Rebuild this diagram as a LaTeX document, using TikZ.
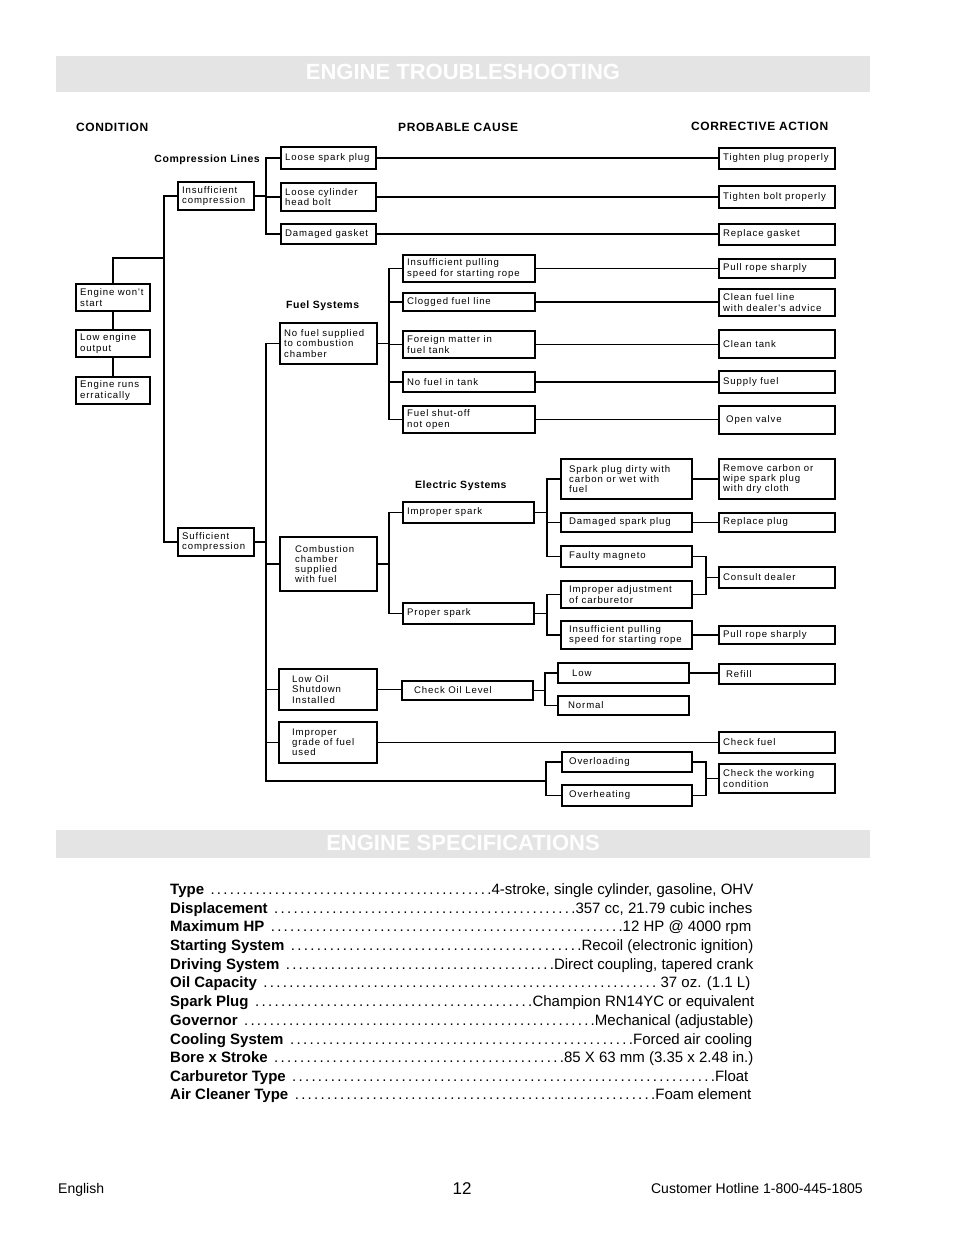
\documentclass[tikz,border=0pt]{standalone}
\usepackage{fontspec}
\setmainfont{Liberation Sans}
\newfontfamily\bxf[LetterSpace=9]{Liberation Sans}
\newfontfamily\hdf[LetterSpace=5]{Liberation Sans}
\definecolor{bannergray}{RGB}{228,228,228}
\newcommand\ldr{\xleaders\hbox to 6.4pt{\hss.}\hfill}
\newcommand\bx[7][4]{%
  \pgfmathsetmacro\bw{#5-#3}\pgfmathsetmacro\bh{#6-#4}%
  \node[box,minimum width=\bw pt,minimum height=\bh pt,anchor=north west] (#2) at (#3,#4) {};
  \node[btxt,anchor=west] (#2-t) at ([xshift=#1pt]#2.west) {#7};}
\newcommand\spec[5]{\node[spec,anchor=base west] (#1) at (170,#2) {\hbox to #3pt{\textbf{#4}\ \ldr #5}};}
\begin{document}
\begin{tikzpicture}[x=1pt,y=-1pt,
  box/.style={draw,line width=1.3pt,inner sep=0,outer sep=0},
  btxt/.style={inner sep=0,align=left,font=\bxf\fontsize{9.6}{10.2}\selectfont},
  link/.style={line width=1.2pt},
  hdr/.style={inner sep=0,font=\hdf\bfseries\fontsize{12}{14}\selectfont},
  sub/.style={inner sep=0,font=\hdf\bfseries\fontsize{10.5}{12}\selectfont},
  spec/.style={inner sep=0,font=\fontsize{15}{18}\selectfont},
  banner/.style={fill=bannergray,draw=none,inner sep=0,outer sep=0},
  btitle/.style={text=white,font=\bfseries\fontsize{22}{26}\selectfont,inner sep=0},
  foot/.style={inner sep=0,font=\fontsize{14}{16}\selectfont}]
\useasboundingbox (0,0) rectangle (954,1235);
\fill[white] (0,0) rectangle (954,1235);

% banners
\node[banner,minimum width=814pt,minimum height=36pt,anchor=north west] (ban1) at (56,56) {};
\node[btitle] (ban1t) at (463,72) {ENGINE TROUBLESHOOTING};
\node[banner,minimum width=814pt,minimum height=28pt,anchor=north west] (ban2) at (56,830) {};
\node[btitle] (ban2t) at (463,843) {ENGINE SPECIFICATIONS};

% headers
\node[hdr,anchor=west] (hc) at (76,127) {CONDITION};
\node[hdr,anchor=west] (hp) at (398,127) {PROBABLE CAUSE};
\node[hdr,anchor=west] (ha) at (691,126) {CORRECTIVE ACTION};
\node[sub,anchor=east] (lcomp) at (260,160) {Compression Lines};
\node[sub,anchor=west] (lfuel) at (286,306) {Fuel Systems};
\node[sub,anchor=west] (lelec) at (415,486) {Electric Systems};

% condition
\bx{c1}{76}{284}{150}{311}{Engine won't\\start}
\bx{c2}{76}{330}{150}{357}{Low engine\\output}
\bx{c3}{76}{377}{150}{404}{Engine runs\\erratically}
\bx{ins}{178}{182}{254}{210}{Insufficient\\compression}
\bx{suf}{178}{528}{254}{556}{Sufficient\\compression}

% compression causes
\bx{p1}{281}{147}{376}{169}{Loose spark plug}
\bx{p2}{281}{183}{376}{211}{Loose cylinder\\head bolt}
\bx{p3}{281}{224}{376}{244}{Damaged gasket}

% fuel
\bx{nofuel}{280}{323}{377}{364}{No fuel supplied\\to combustion\\chamber}
\bx{f1}{403}{255}{535}{282}{Insufficient pulling\\speed for starting rope}
\bx{f2}{403}{293}{535}{311}{Clogged fuel line}
\bx{f3}{403}{331}{535}{358}{Foreign matter in\\fuel tank}
\bx{f4}{403}{372}{535}{392}{No fuel in tank}
\bx{f5}{403}{406}{535}{433}{Fuel shut-off\\not open}

% electric
\bx[15]{comb}{280}{537}{377}{591}{Combustion\\chamber\\supplied\\with fuel}
\bx{imp}{403}{502}{534}{523}{Improper spark}
\bx{prop}{403}{603}{534}{624}{Proper spark}
\bx[8]{e1}{561}{459}{692}{499}{Spark plug dirty with\\carbon or wet with\\fuel}
\bx[8]{e2}{561}{513}{692}{532}{Damaged spark plug}
\bx[8]{e3}{561}{546}{692}{567}{Faulty magneto}
\bx[8]{e4}{561}{581}{692}{608}{Improper adjustment\\of carburetor}
\bx[8]{e5}{561}{621}{692}{649}{Insufficient pulling\\speed for starting rope}

% oil / grade / load
\bx[13]{lowoil}{279}{669}{377}{710}{Low Oil\\Shutdown\\Installed}
\bx[12]{chk}{402}{681}{533}{700}{Check Oil Level}
\bx[14]{low}{558}{663}{689}{683}{Low}
\bx[10]{norm}{558}{696}{689}{715}{Normal}
\bx[13]{grade}{279}{722}{377}{763}{Improper\\grade of fuel\\used}
\bx[7]{ovl}{562}{752}{692}{772}{Overloading}
\bx[7]{ovh}{562}{785}{692}{806}{Overheating}

% actions
\bx{a1}{719}{148}{835}{169}{Tighten plug properly}
\bx{a2}{719}{186}{835}{208}{Tighten bolt properly}
\bx{a3}{719}{224}{835}{245}{Replace gasket}
\bx{a4}{719}{259}{835}{278}{Pull rope sharply}
\bx{a5}{719}{289}{835}{316}{Clean fuel line\\with dealer's advice}
\bx{a6}{719}{330}{835}{358}{Clean tank}
\bx{a7}{719}{371}{835}{393}{Supply fuel}
\bx[7]{a8}{719}{406}{835}{434}{Open valve}
\bx{a9}{719}{459}{835}{499}{Remove carbon or\\wipe spark plug\\with dry cloth}
\bx{a10}{719}{513}{835}{532}{Replace plug}
\bx{a11}{719}{567}{835}{588}{Consult dealer}
\bx{a12}{719}{626}{835}{644}{Pull rope sharply}
\bx[7]{a13}{719}{664}{835}{684}{Refill}
\bx{a14}{719}{732}{835}{753}{Check fuel}
\bx{a15}{719}{764}{835}{793}{Check the working\\condition}

% junction columns
\coordinate (j1) at (164,258);
\coordinate (vA) at (266,0);
\coordinate (vB) at (389,0);
\coordinate (vD) at (547,0);
\coordinate (vE) at (545,0);
\coordinate (vF) at (706,0);
\coordinate (vG) at (546,0);
\coordinate (bot) at (266,781);

% condition tree
\draw[link] (c1.north) |- (j1);
\draw[link] (c1.south) -- (c2.north);
\draw[link] (c2.south) -- (c3.north);
\draw[link] (ins.west) -| (j1) |- (suf.west);

% compression
\draw[link] (ins.east) -- (ins.east -| vA);
\draw[link] (p1.west) -- (p1.west -| vA) -- (p3.west -| vA) -- (p3.west);
\draw[link] (p2.west) -- (p2.west -| vA);
\draw[link] (p1.east) -- (p1.east -| a1.west);
\draw[link] (p2.east) -- (p2.east -| a2.west);
\draw[link] (p3.east) -- (p3.east -| a3.west);

% main vertical for sufficient compression
\draw[link] (nofuel.west) -- (nofuel.west -| vA) -- (bot) -- (bot -| vG);
\draw[link] (suf.east) -- (suf.east -| vA);
\draw[link] (comb.west) -- (comb.west -| vA);
\draw[link] (lowoil.west) -- (lowoil.west -| vA);
\draw[link] (grade.west) -- (grade.west -| vA);

% fuel
\draw[link] (nofuel.east) -- (nofuel.east -| vB);
\draw[link] (f1.west) -- (f1.west -| vB) -- (f5.west -| vB) -- (f5.west);
\draw[link] (f2.west) -- (f2.west -| vB);
\draw[link] (f3.west) -- (f3.west -| vB);
\draw[link] (f4.west) -- (f4.west -| vB);
\draw[link] (f1.east) -- (f1.east -| a4.west);
\draw[link] (f2.east) -- (f2.east -| a5.west);
\draw[link] (f3.east) -- (f3.east -| a6.west);
\draw[link] (f4.east) -- (f4.east -| a7.west);
\draw[link] (f5.east) -- (f5.east -| a8.west);

% electric
\draw[link] (comb.east) -- (comb.east -| vB);
\draw[link] (imp.west) -- (imp.west -| vB) -- (prop.west -| vB) -- (prop.west);
\draw[link] (imp.east) -- (imp.east -| vD);
\draw[link] (e1.west) -- (e1.west -| vD) -- (e3.west -| vD) -- (e3.west);
\draw[link] (e2.west) -- (e2.west -| vD);
\draw[link] (prop.east) -- (prop.east -| vD);
\draw[link] (e4.west) -- (e4.west -| vD) -- (e5.west -| vD) -- (e5.west);
\draw[link] (e1.east) -- (e1.east -| a9.west);
\draw[link] (e2.east) -- (e2.east -| a10.west);
\draw[link] (e3.east) -- (e3.east -| vF) -- (e4.east -| vF) -- (e4.east);
\draw[link] (a11.west) -- (a11.west -| vF);
\draw[link] (e5.east) -- (e5.east -| a12.west);

% oil
\draw[link] (lowoil.east) -- (lowoil.east -| chk.west);
\draw[link] (chk.east) -- (chk.east -| vE);
\draw[link] (low.west) -- (low.west -| vE) -- (norm.west -| vE) -- (norm.west);
\draw[link] (low.east) -- (low.east -| a13.west);

% grade / load
\draw[link] (grade.east) -- (grade.east -| a14.west);
\draw[link] (ovl.west) -- (ovl.west -| vG) -- (ovh.west -| vG) -- (ovh.west);
\draw[link] (ovl.east) -- (ovl.east -| vF) -- (ovh.east -| vF) -- (ovh.east);
\draw[link] (a15.west) -- (a15.west -| vF);

% specifications
\spec{s1}{894}{583}{Type}{4-stroke, single cylinder, gasoline, OHV}
\spec{s2}{913}{582}{Displacement}{357 cc, 21.79 cubic inches}
\spec{s3}{931}{581}{Maximum HP}{12 HP @ 4000 rpm}
\spec{s4}{950}{583}{Starting System}{Recoil (electronic ignition)}
\spec{s5}{969}{583}{Driving System}{Direct coupling, tapered crank}
\spec{s6}{987}{580}{Oil Capacity}{ 37 oz. (1.1 L)}
\spec{s7}{1006}{584}{Spark Plug}{Champion RN14YC or equivalent}
\spec{s8}{1025}{583}{Governor}{Mechanical (adjustable)}
\spec{s9}{1044}{582}{Cooling System}{Forced air cooling}
\spec{s10}{1062}{583}{Bore x Stroke}{85 X 63 mm (3.35 x 2.48 in.)}
\spec{s11}{1081}{578}{Carburetor Type}{Float}
\spec{s12}{1099}{581}{Air Cleaner Type}{Foam element}

% footer
\node[foot,anchor=base west] (fe) at (58,1193) {English};
\node[inner sep=0,font=\fontsize{17}{20}\selectfont,anchor=base] (fn) at (462,1194) {12};
\node[foot,anchor=base east] (fh) at (863,1193) {Customer Hotline 1-800-445-1805};
\end{tikzpicture}
\end{document}
